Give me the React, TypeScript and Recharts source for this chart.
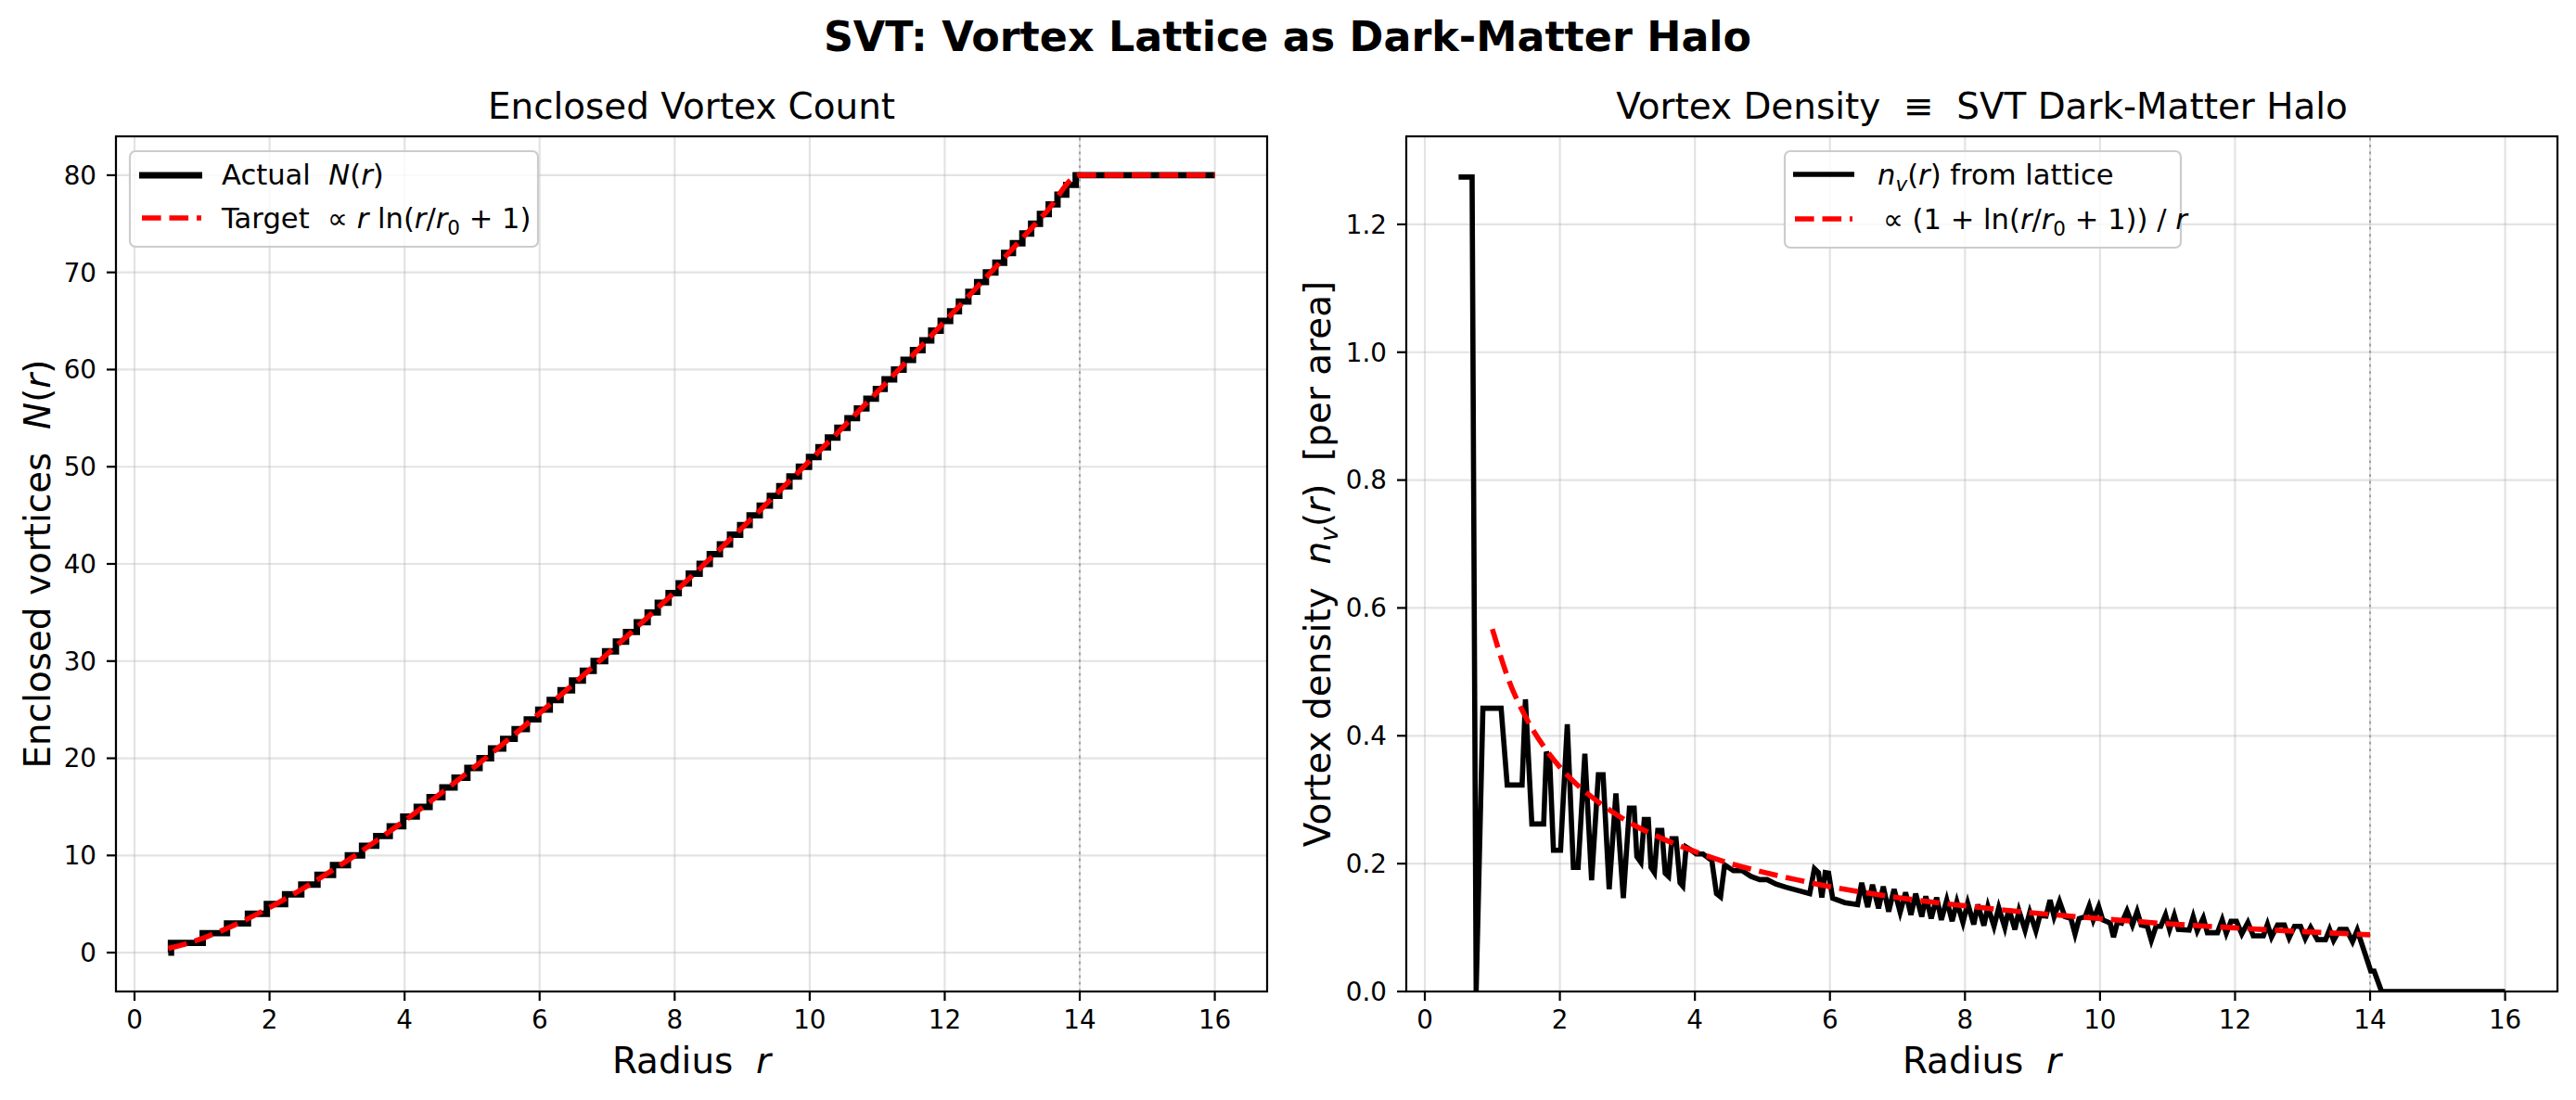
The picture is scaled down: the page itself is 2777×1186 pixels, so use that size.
import React from 'react';
import { LineChart, Line, XAxis, YAxis, CartesianGrid, ReferenceLine } from 'recharts';

const FONT = "'DejaVu Sans', sans-serif";

// ---------- tick labels ----------
const radiusTicks = [0, 2, 4, 6, 8, 10, 12, 14, 16];
const countTicks = [0, 10, 20, 30, 40, 50, 60, 70, 80];
const densityTicks = [0, 0.2, 0.4, 0.6, 0.8, 1.0, 1.2];

// ---------- left panel: enclosed vortex count ----------
const actualR = [
  0.5, 0.54, 1.01, 1.37, 1.68, 1.96, 2.23, 2.47, 2.71, 2.94, 3.16, 3.37, 3.58, 3.78, 3.98, 4.18,
  4.37, 4.56, 4.74, 4.93, 5.11, 5.28, 5.46, 5.63, 5.81, 5.98, 6.15, 6.31, 6.48, 6.64, 6.8,
  6.97, 7.13, 7.28, 7.44, 7.6, 7.75, 7.91, 8.06, 8.21, 8.37, 8.52, 8.67, 8.82, 8.97, 9.11,
  9.26, 9.41, 9.55, 9.7, 9.84, 9.99, 10.13, 10.27, 10.41, 10.56, 10.7, 10.84, 10.98, 11.11,
  11.25, 11.39, 11.53, 11.67, 11.8, 11.94, 12.08, 12.21, 12.35, 12.48, 12.61, 12.75, 12.88,
  13.01, 13.15, 13.28, 13.41, 13.54, 13.67, 13.8, 13.94, 16.0,
];
const actualN = [
  0, 1, 2, 3, 4, 5, 6, 7, 8, 9, 10, 11, 12, 13, 14, 15, 16, 17, 18, 19, 20, 21, 22, 23, 24, 25,
  26, 27, 28, 29, 30, 31, 32, 33, 34, 35, 36, 37, 38, 39, 40, 41, 42, 43, 44, 45, 46, 47, 48,
  49, 50, 51, 52, 53, 54, 55, 56, 57, 58, 59, 60, 61, 62, 63, 64, 65, 66, 67, 68, 69, 70, 71,
  72, 73, 74, 75, 76, 77, 78, 79, 80, 80,
];
const targetR = [
  0.5, 0.6, 0.7, 0.8, 0.9, 1.0, 1.1, 1.2, 1.3, 1.4, 1.5, 1.6, 1.7, 1.8, 1.9, 2.0, 2.2, 2.4, 2.6,
  2.8, 3.0, 3.2, 3.4, 3.6, 3.8, 4.0, 4.5, 5.0, 5.5, 6.0, 6.5, 7.0, 7.5, 8.0, 8.5, 9.0, 9.5, 10,
  10.5, 11, 11.5, 12, 12.5, 13, 13.5, 14, 15, 16,
];
const targetN = [
  0.43, 0.6, 0.78, 0.99, 1.22, 1.46, 1.72, 2.0, 2.29, 2.59, 2.9, 3.23, 3.56, 3.91, 4.27, 4.64,
  5.4, 6.2, 7.03, 7.89, 8.78, 9.69, 10.63, 11.59, 12.58, 13.58, 16.19, 18.9, 21.72, 24.64,
  27.64, 30.72, 33.87, 37.09, 40.38, 43.73, 47.14, 50.6, 54.11, 57.68, 61.29, 64.95, 68.65,
  72.39, 76.18, 80.0, 80.0, 80.0,
];

// ---------- right panel: vortex density ----------
const densityR = [
  0.5, 0.7, 0.76, 0.86, 1.13, 1.22, 1.44, 1.49, 1.585, 1.76, 1.8, 1.85, 1.905, 2.01, 2.11, 2.2,
  2.27, 2.37, 2.47, 2.57, 2.64, 2.73, 2.83, 2.94, 3.03, 3.1, 3.14, 3.2, 3.25, 3.31, 3.35, 3.4,
  3.45, 3.51, 3.56, 3.61, 3.66, 3.72, 3.78, 3.82, 3.87, 3.96, 4.02, 4.12, 4.25, 4.32, 4.38,
  4.44, 4.57, 4.7, 4.83, 4.96, 5.07, 5.2, 5.35, 5.49, 5.7, 5.77, 5.83, 5.88, 5.93, 5.98, 6.04,
  6.22, 6.41, 6.47, 6.56, 6.63, 6.72, 6.79, 6.87, 6.95, 7.04, 7.12, 7.2, 7.27, 7.36, 7.42, 7.5,
  7.58, 7.65, 7.73, 7.81, 7.88, 7.97, 8.04, 8.13, 8.19, 8.28, 8.34, 8.43, 8.5, 8.59, 8.65, 8.74,
  8.8, 8.89, 8.96, 9.05, 9.11, 9.2, 9.26, 9.32, 9.4, 9.48, 9.57, 9.63, 9.69, 9.78, 9.84, 9.9,
  9.98, 10.04, 10.15, 10.2, 10.26, 10.32, 10.4, 10.48, 10.55, 10.61, 10.7, 10.76, 10.83, 10.9,
  10.97, 11.03, 11.1, 11.16, 11.32, 11.38, 11.44, 11.53, 11.59, 11.74, 11.81, 11.87, 11.94,
  12.02, 12.1, 12.19, 12.27, 12.42, 12.48, 12.54, 12.63, 12.73, 12.8, 12.88, 12.97, 13.04,
  13.12, 13.22, 13.34, 13.4, 13.46, 13.55, 13.65, 13.74, 13.81, 13.86, 14.01, 14.06, 14.17, 16.0,
];
const densityV = [
  1.274, 1.274, 0.0, 0.443, 0.443, 0.323, 0.323, 0.457, 0.262, 0.262, 0.375, 0.36, 0.221, 0.221,
  0.418, 0.194, 0.194, 0.372, 0.174, 0.339, 0.339, 0.16, 0.31, 0.146, 0.287, 0.287, 0.211, 0.202,
  0.269, 0.269, 0.194, 0.186, 0.252, 0.252, 0.185, 0.18, 0.239, 0.239, 0.17, 0.165, 0.226, 0.22,
  0.215, 0.215, 0.205, 0.153, 0.148, 0.198, 0.189, 0.189, 0.18, 0.175, 0.175, 0.168, 0.163,
  0.159, 0.153, 0.192, 0.186, 0.147, 0.186, 0.185, 0.146, 0.139, 0.136, 0.17, 0.132, 0.167,
  0.13, 0.164, 0.125, 0.16, 0.124, 0.155, 0.12, 0.153, 0.117, 0.149, 0.114, 0.147, 0.112, 0.143,
  0.11, 0.14, 0.108, 0.138, 0.105, 0.136, 0.103, 0.133, 0.102, 0.131, 0.1, 0.129, 0.097, 0.126,
  0.096, 0.124, 0.095, 0.119, 0.118, 0.143, 0.117, 0.141, 0.117, 0.114, 0.09, 0.114, 0.117,
  0.134, 0.112, 0.133, 0.112, 0.107, 0.085, 0.109, 0.107, 0.126, 0.104, 0.125, 0.104, 0.102,
  0.08, 0.102, 0.102, 0.12, 0.097, 0.119, 0.097, 0.096, 0.117, 0.095, 0.115, 0.092, 0.092,
  0.112, 0.091, 0.11, 0.11, 0.09, 0.108, 0.087, 0.087, 0.105, 0.085, 0.104, 0.104, 0.084, 0.102,
  0.102, 0.083, 0.1, 0.081, 0.081, 0.097, 0.08, 0.097, 0.097, 0.078, 0.096, 0.08, 0.032, 0.032,
  0.0, 0.0,
];
const profileR = [
  1.0, 1.25, 1.5, 1.75, 2.0, 2.25, 2.5, 2.75, 3.0, 3.5, 4.0, 4.5, 5.0, 5.5, 6.0, 6.5, 7.0, 7.5,
  8.0, 9.0, 10, 11, 12, 13, 14,
];
const profileV = [
  0.567, 0.485, 0.428, 0.385, 0.351, 0.324, 0.302, 0.283, 0.266, 0.24, 0.219, 0.201, 0.187,
  0.175, 0.164, 0.155, 0.147, 0.14, 0.134, 0.123, 0.114, 0.106, 0.0995, 0.0937, 0.0887,
];

const zip = (xs: number[], ys: number[]) => xs.map((r, i) => ({ r, v: ys[i] }));
const actualData = zip(actualR, actualN);
const targetData = zip(targetR, targetN);
const densityData = zip(densityR, densityV);
const profileData = zip(profileR, profileV);

const X_DOMAIN: [number, number] = [-0.275, 16.775];
const tickStyle = { fill: '#000', fontSize: 27.8, fontFamily: FONT };
const tickLine = { stroke: '#000', strokeWidth: 2.2 };

const PLOT_TOP = 147;
const PLOT_H = 922;
const PLOT_W = 1241;
const LEFT_X = 125;
const RIGHT_X = 1516;

const I = ({ children }: { children: React.ReactNode }) => (
  <tspan fontStyle="italic">{children}</tspan>
);

function Overlay() {
  const lx = LEFT_X + PLOT_W / 2;
  const rx = RIGHT_X + PLOT_W / 2;
  const cy = PLOT_TOP + PLOT_H / 2;
  return (
    <svg
      width={2777}
      height={1186}
      style={{ position: 'absolute', left: 0, top: 0, pointerEvents: 'none' }}
      fontFamily={FONT}
    >
      <rect x={LEFT_X} y={PLOT_TOP} width={PLOT_W} height={PLOT_H} fill="none" stroke="#000" strokeWidth={2.2} />
      <rect x={RIGHT_X} y={PLOT_TOP} width={PLOT_W} height={PLOT_H} fill="none" stroke="#000" strokeWidth={2.2} />

      <text x={1388} y={55} textAnchor="middle" fontSize={44.4} fontWeight="bold" fill="#000">
        SVT: Vortex Lattice as Dark-Matter Halo
      </text>
      <text x={lx} y={128} textAnchor="middle" fontSize={38.9} fill="#000">
        Enclosed Vortex Count
      </text>
      <text x={rx} y={128} textAnchor="middle" fontSize={38.9} fill="#000" style={{ whiteSpace: 'pre' }}>
        {'Vortex Density  \u2261  SVT Dark-Matter Halo'}
      </text>

      <text x={lx} y={1157} textAnchor="middle" fontSize={38.9} fill="#000" style={{ whiteSpace: 'pre' }}>
        {'Radius  '}
        <I>r</I>
      </text>
      <text x={rx} y={1157} textAnchor="middle" fontSize={38.9} fill="#000" style={{ whiteSpace: 'pre' }}>
        {'Radius  '}
        <I>r</I>
      </text>

      <text
        x={0}
        y={0}
        transform={`translate(54, ${cy}) rotate(-90)`}
        textAnchor="middle"
        fontSize={38.9}
        fill="#000"
        style={{ whiteSpace: 'pre' }}
      >
        {'Enclosed vortices  '}
        <I>N</I>(<I>r</I>)
      </text>
      <text
        x={0}
        y={0}
        transform={`translate(1434, ${cy}) rotate(-90)`}
        textAnchor="middle"
        fontSize={38.9}
        fill="#000"
        style={{ whiteSpace: 'pre' }}
      >
        {'Vortex density  '}
        <I>n</I>
        <tspan fontStyle="italic" fontSize={27} dy={8}>v</tspan>
        <tspan dy={-8}>(</tspan>
        <I>r</I>
        {')  [per area]'}
      </text>

      {/* left legend */}
      <rect x={140} y={163} width={440} height={103} rx={6} fill="#fff" fillOpacity={0.8} stroke="#cccccc" strokeWidth={2.2} />
      <line x1={150} x2={218} y1={189} y2={189} stroke="#000" strokeWidth={6.9} />
      <line x1={153} x2={217} y1={235} y2={235} stroke="#ff0000" strokeWidth={5.6} strokeDasharray="20.6 8.9" />
      <text x={239} y={199} fontSize={30.6} fill="#000" style={{ whiteSpace: 'pre' }}>
        {'Actual  '}
        <I>N</I>(<I>r</I>)
      </text>
      <text x={239} y={246} fontSize={30.6} fill="#000" style={{ whiteSpace: 'pre' }}>
        {'Target  \u221D '}
        <I>r</I>
        {' ln('}
        <I>r</I>/<I>r</I>
        <tspan fontSize={21.5} dy={7}>0</tspan>
        <tspan dy={-7}>{' + 1)'}</tspan>
      </text>

      {/* right legend */}
      <rect x={1924} y={163} width={427} height={104} rx={6} fill="#fff" fillOpacity={0.8} stroke="#cccccc" strokeWidth={2.2} />
      <line x1={1933} x2={1999} y1={188} y2={188} stroke="#000" strokeWidth={5.6} />
      <line x1={1935} x2={1997} y1={236} y2={236} stroke="#ff0000" strokeWidth={5.6} strokeDasharray="20.6 8.9" />
      <text x={2024} y={199} fontSize={30.6} fill="#000" style={{ whiteSpace: 'pre' }}>
        <I>n</I>
        <tspan fontStyle="italic" fontSize={21.5} dy={7}>v</tspan>
        <tspan dy={-7}>(</tspan>
        <I>r</I>
        {') from lattice'}
      </text>
      <text x={2030} y={247} fontSize={30.6} fill="#000" style={{ whiteSpace: 'pre' }}>
        {'\u221D (1 + ln('}
        <I>r</I>/<I>r</I>
        <tspan fontSize={21.5} dy={7}>0</tspan>
        <tspan dy={-7}>{' + 1)) / '}</tspan>
        <I>r</I>
      </text>
    </svg>
  );
}

function LeftPanel() {
  return (
    <div style={{ position: 'absolute', left: 0, top: 0 }}>
      <LineChart width={1400} height={1186} margin={{ top: PLOT_TOP, right: 1400 - LEFT_X - PLOT_W, bottom: 0, left: 0 }}>
        <CartesianGrid stroke="#b0b0b0" strokeOpacity={0.35} strokeWidth={2.2} />
        <XAxis
          dataKey="r"
          type="number"
          domain={X_DOMAIN}
          ticks={radiusTicks}
          interval={0}
          allowDataOverflow
          axisLine={false}
          tickLine={tickLine}
          tickSize={10}
          tickMargin={10}
          tick={tickStyle}
          height={1186 - PLOT_TOP - PLOT_H}
        />
        <YAxis
          type="number"
          domain={[-4, 84]}
          ticks={countTicks}
          interval={0}
          allowDataOverflow
          axisLine={false}
          tickLine={tickLine}
          tickSize={10}
          tickMargin={11}
          tick={tickStyle}
          width={LEFT_X}
        />
        <ReferenceLine x={14} stroke="#a0a0a0" strokeWidth={2} strokeDasharray="2.8 4.6" />
        <Line
          data={actualData}
          dataKey="v"
          type="stepAfter"
          stroke="#000"
          strokeWidth={6.9}
          dot={false}
          activeDot={false}
          isAnimationActive={false}
        />
        <Line
          data={targetData}
          dataKey="v"
          type="monotone"
          stroke="#ff0000"
          strokeWidth={5.6}
          strokeDasharray="20.6 8.9"
          dot={false}
          activeDot={false}
          isAnimationActive={false}
        />
      </LineChart>
    </div>
  );
}

function RightPanel() {
  const W = 2777 - 1400;
  return (
    <div style={{ position: 'absolute', left: 1400, top: 0 }}>
      <LineChart width={W} height={1186} margin={{ top: PLOT_TOP, right: 2777 - RIGHT_X - PLOT_W, bottom: 0, left: 0 }}>
        <CartesianGrid stroke="#b0b0b0" strokeOpacity={0.35} strokeWidth={2.2} />
        <XAxis
          dataKey="r"
          type="number"
          domain={X_DOMAIN}
          ticks={radiusTicks}
          interval={0}
          allowDataOverflow
          axisLine={false}
          tickLine={tickLine}
          tickSize={10}
          tickMargin={10}
          tick={tickStyle}
          height={1186 - PLOT_TOP - PLOT_H}
        />
        <YAxis
          type="number"
          domain={[0, 1.3377]}
          ticks={densityTicks}
          interval={0}
          allowDataOverflow
          axisLine={false}
          tickLine={tickLine}
          tickSize={10}
          tickMargin={11}
          tick={tickStyle}
          tickFormatter={(v: number) => v.toFixed(1)}
          width={RIGHT_X - 1400}
        />
        <ReferenceLine x={14} stroke="#a0a0a0" strokeWidth={2} strokeDasharray="2.8 4.6" />
        <Line
          data={densityData}
          dataKey="v"
          type="linear"
          stroke="#000"
          strokeWidth={5.6}
          dot={false}
          activeDot={false}
          isAnimationActive={false}
        />
        <Line
          data={profileData}
          dataKey="v"
          type="monotone"
          stroke="#ff0000"
          strokeWidth={5.6}
          strokeDasharray="20.6 8.9"
          dot={false}
          activeDot={false}
          isAnimationActive={false}
        />
      </LineChart>
    </div>
  );
}

export default function App() {
  return (
    <div
      style={{
        position: 'absolute',
        left: 0,
        top: 0,
        width: 2777,
        height: 1186,
        background: '#fff',
        fontFamily: FONT,
      }}
    >
      <LeftPanel />
      <RightPanel />
      <Overlay />
    </div>
  );
}
